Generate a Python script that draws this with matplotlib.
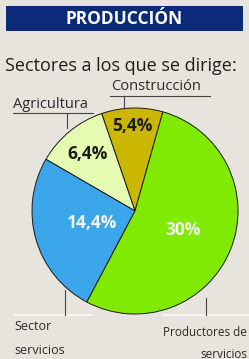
import matplotlib
matplotlib.use('Agg')
import matplotlib.pyplot as plt
import numpy as np

# data
sectors = ['Construcción', 'Agricultura', 'Sector servicios', 'Productores de servicios']
values = [5.4, 6.4, 14.4, 30.0]
pct_labels = ['5,4%', '6,4%', '14,4%', '30%']

colors = ['#cbb700', '#e6fbb2', '#3ba6ea', '#80ea02']
pct_colors = ['#1b1b1b', '#1b1b1b', '#f4f4f4', '#f4f4f4']
pct_dist = [0.83, 0.72, 0.43, 0.50]

BG = '#e6e4dd'
FONT = 'Open Sans'

W, H = 249, 359
fig = plt.figure(figsize=(W / 100, H / 100), dpi=100, facecolor=BG)
ax = fig.add_axes([0, 0, 1, 1])
ax.set_facecolor(BG)

def py(y):
    # pixel row (from top) -> axes y
    return H - y

## Pie
cx, cy, r = 135, py(211), 103
wedges, _ = ax.pie(values, colors=colors, startangle=74.3, counterclock=True,
                   center=(cx, cy), radius=r, frame=True,
                   wedgeprops=dict(edgecolor='#1a1a1a', linewidth=0.7))
ax.set_xlim(0, W)
ax.set_ylim(0, H)
ax.axis('off')

for w, lab, c, d in zip(wedges, pct_labels, pct_colors, pct_dist):
    ang = np.deg2rad((w.theta1 + w.theta2) / 2)
    ax.text(cx + d * r * np.cos(ang), cy + d * r * np.sin(ang), lab, color=c,
            fontsize=12.5, fontweight='bold', family=FONT, ha='center', va='center')

## Title bar
ax.add_patch(plt.Rectangle((6, py(31)), 237, 25, color='#0b2a7a', lw=0))
ax.text(124.5, py(18.5), 'PRODUCCIÓN', color='white', fontsize=12.5, fontweight='bold',
        family=FONT, ha='center', va='center')

ax.text(5, py(66), 'Sectores a los que se dirige:', color='#1e1e1e', fontsize=13,
        family=FONT, ha='left', va='center')

## Callouts
txt = dict(family=FONT, color='#2a2a2a', va='center')
line_dark = dict(color='#444444', lw=0.8)
ax.plot([110, 210], [py(96), py(96)], **line_dark)
ax.plot([124, 124], [py(96), py(107)], **line_dark)
ax.text(111, py(87), sectors[0], fontsize=10.5, ha='left', **txt)

ax.plot([13, 93], [py(113), py(113)], **line_dark)
ax.plot([67, 67], [py(113), py(128)], **line_dark)
ax.text(13, py(104), sectors[1], fontsize=10.5, ha='left', **txt)

line_light = dict(color='#fbfbf8', lw=1.2)
ax.plot([14, 92], [py(315), py(315)], **line_light)
ax.plot([65, 65], [py(290), py(315)], **line_dark)
ax.text(14, py(327), 'Sector', fontsize=9, ha='left', **txt)
ax.text(14, py(351), 'servicios', fontsize=9, ha='left', **txt)

ax.plot([163, 249], [py(315), py(315)], **line_light)
ax.plot([206, 206], [py(298), py(315)], **line_dark)
ax.text(163, py(333), 'Productores de', fontsize=8.5, ha='left', **txt)
ax.text(247, py(354), 'servicios', fontsize=8.5, ha='right', **txt)

fig.savefig('out.png', dpi=100, facecolor=BG)
